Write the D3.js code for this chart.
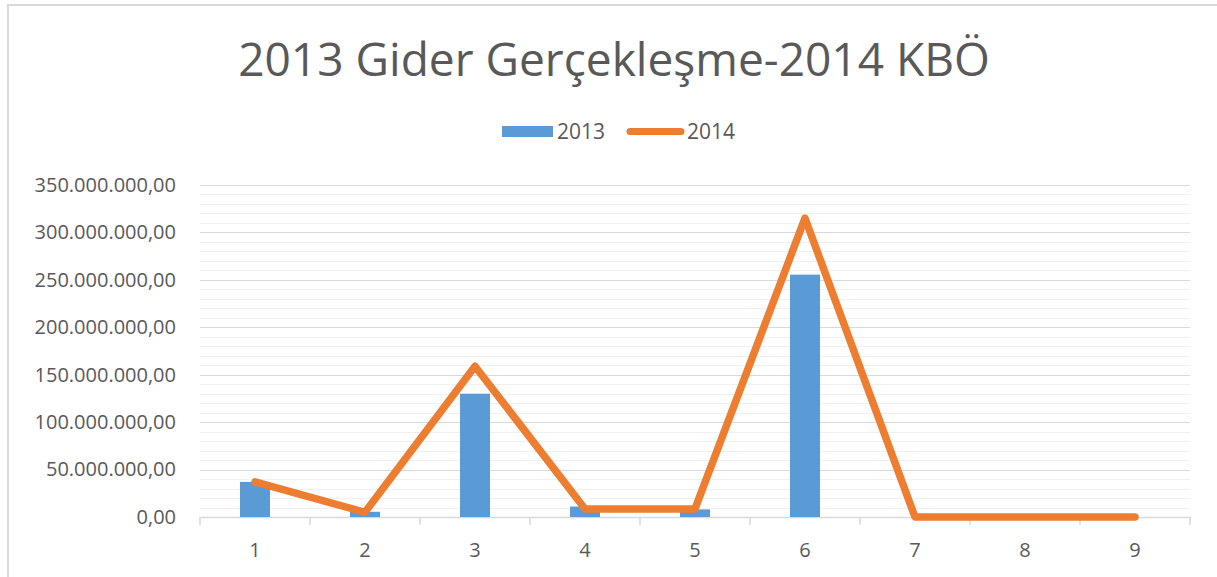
<!DOCTYPE html>
<html>
<head>
<meta charset="utf-8">
<script src="https://cdn.jsdelivr.net/npm/d3@7"></script>
<style>
  html, body { margin: 0; padding: 0; background: #fff; }
  svg { display: block; font-family: "Open Sans", sans-serif; }
</style>
</head>
<body>
<svg id="chart" width="1217" height="577"></svg>
<script>
const categories = ["1", "2", "3", "4", "5", "6", "7", "8", "9"]
const values2013 = [37000000, 5500000, 130000000, 11000000, 8000000, 255500000, 0, 0, 0]
const values2014 = [37000000, 5000000, 159000000, 8500000, 8500000, 315000000, 0, 0, 0]
const yTicks = [0, 50000000, 100000000, 150000000, 200000000, 250000000, 300000000, 350000000]
const title = "2013 Gider Gerçekleşme-2014 KBÖ"

const plotLeft = 200, plotRight = 1190, plotTop = 185, plotBottom = 517
const textColor = "#595959"

const svg = d3.select("#chart")

// chart border (only top/left visible in the crop)
svg.append("rect")
  .attr("x", 8).attr("y", 5)
  .attr("width", 1240).attr("height", 600)
  .attr("fill", "none")
  .attr("stroke", "#d9d9d9")
  .attr("stroke-width", 2)

const x = d3.scaleBand(categories, [plotLeft, plotRight])
const y = d3.scaleLinear([0, 350000000], [plotBottom, plotTop])

const fmt = v => {
  const s = d3.format(",.2f")(v)
  return s.replace(/,/g, "#").replace(".", ",").replace(/#/g, ".")
}

// minor gridlines every 10M
svg.append("g")
  .selectAll("line")
  .data(d3.range(0, 350000001, 10000000).filter(v => v % 50000000 !== 0))
  .join("line")
  .attr("x1", plotLeft).attr("x2", plotRight)
  .attr("y1", d => Math.round(y(d)) + 0.5).attr("y2", d => Math.round(y(d)) + 0.5)
  .attr("stroke", "#f0f0f0")

// major gridlines
svg.append("g")
  .selectAll("line")
  .data(yTicks.slice(1))
  .join("line")
  .attr("x1", plotLeft).attr("x2", plotRight)
  .attr("y1", d => Math.round(y(d)) + 0.5).attr("y2", d => Math.round(y(d)) + 0.5)
  .attr("stroke", "#d9d9d9")

// y axis labels
const yAxis = d3.axisLeft(y).tickValues(yTicks).tickFormat(fmt).tickSize(0).tickPadding(24)
const gy = svg.append("g").attr("transform", `translate(${plotLeft},0)`).call(yAxis)
gy.select(".domain").remove()
gy.selectAll("text")
  .attr("fill", textColor)
  .attr("font-size", 20)
  .attr("font-family", "Open Sans")

// x axis
const xAxis = d3.axisBottom(x).tickSize(0).tickPadding(26)
const gx = svg.append("g").attr("transform", `translate(0,${plotBottom})`).call(xAxis)
gx.select(".domain").attr("stroke", "#d9d9d9").attr("stroke-width", 1.5)
gx.selectAll("text")
  .attr("fill", textColor)
  .attr("font-size", 20)
  .attr("font-family", "Open Sans")
// tick marks at band boundaries
gx.selectAll("line.bound")
  .data(d3.range(categories.length + 1))
  .join("line")
  .attr("class", "bound")
  .attr("x1", i => plotLeft + i * x.step()).attr("x2", i => plotLeft + i * x.step())
  .attr("y1", 0).attr("y2", 8)
  .attr("stroke", "#d9d9d9")
  .attr("stroke-width", 1.5)

// bars 2013
const barW = 30
svg.append("g")
  .selectAll("rect")
  .data(categories.map((c, i) => ({c, v: values2013[i]})))
  .join("rect")
  .attr("x", d => x(d.c) + x.bandwidth() / 2 - barW / 2)
  .attr("width", barW)
  .attr("y", d => y(d.v))
  .attr("height", d => y(0) - y(d.v))
  .attr("fill", "#5b9bd5")

// line 2014
const line = d3.line()
  .x((d, i) => x(categories[i]) + x.bandwidth() / 2)
  .y(d => y(d))
svg.append("path")
  .attr("d", line(values2014))
  .attr("fill", "none")
  .attr("stroke", "#ed7d31")
  .attr("stroke-width", 7.5)
  .attr("stroke-linejoin", "round")
  .attr("stroke-linecap", "round")

// title
const t = svg.append("text")
  .attr("x", 614).attr("y", 76)
  .attr("text-anchor", "middle")
  .attr("fill", textColor)
  .attr("font-size", 46)
  .text(title)
const tw = t.node().getComputedTextLength()
t.attr("font-size", 46 * 752 / tw)

// legend
const lg = svg.append("g")
lg.append("rect").attr("x", 502).attr("y", 126).attr("width", 51).attr("height", 11).attr("fill", "#5b9bd5")
lg.append("text").attr("x", 557).attr("y", 139).attr("fill", textColor).attr("font-size", 21).text("2013")
lg.append("line").attr("x1", 630).attr("x2", 681).attr("y1", 131.5).attr("y2", 131.5)
  .attr("stroke", "#ed7d31").attr("stroke-width", 7).attr("stroke-linecap", "round")
lg.append("text").attr("x", 687).attr("y", 139).attr("fill", textColor).attr("font-size", 21).text("2014")
</script>
</body>
</html>
